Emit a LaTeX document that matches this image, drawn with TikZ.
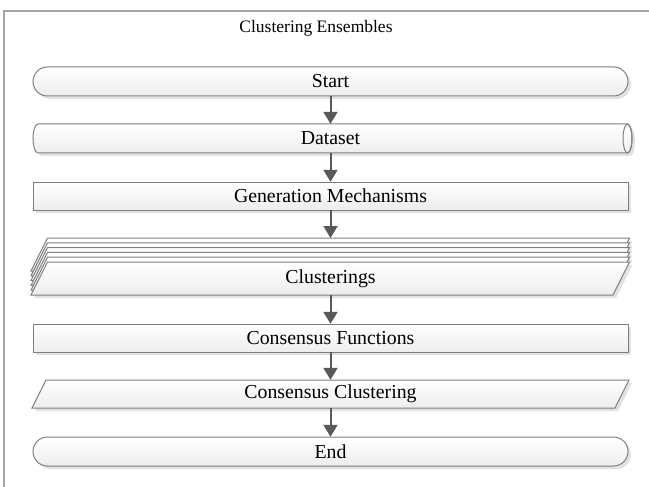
\documentclass[tikz,border=0pt]{standalone}
\usepackage{fontspec}
\setmainfont{Liberation Serif}
\usetikzlibrary{arrows.meta}
\definecolor{bordercol}{HTML}{7F7F7F}
\definecolor{arrowcol}{HTML}{595959}
\definecolor{framecol}{HTML}{A6A6A6}
\definecolor{shadowcol}{HTML}{E2E2E2}
\begin{document}
\begin{tikzpicture}[x=1pt,y=-1pt,
  shapebox/.style={draw=bordercol, line width=1pt, top color=white, bottom color=black!7,
    preaction={fill=shadowcol, transform canvas={shift={(3pt,-3pt)}}}},
  lbl/.style={inner sep=0pt, minimum width=595pt, font=\fontsize{19.8}{22}\selectfont, text=black},
  arr/.style={draw=arrowcol, line width=2pt, -{Triangle[width=14pt,length=12pt]}}]
\useasboundingbox (0,0) rectangle (649,487);
% frame
\draw[framecol, line width=1.5pt] (4,487) -- (4,11) -- (649,11);
\node[font=\fontsize{17.5}{20}\selectfont] (title) at (316,28) {Clustering Ensembles};
% Start
\path[shapebox, rounded corners=14.5pt] (33,67) rectangle (628,96);
\node[lbl, minimum height=29pt] (start) at (330.5,81.5) {Start};
% Dataset (horizontal cylinder)
\path[shapebox] (38,124) -- (627.5,124)
  .. controls (629.99,124) and (632,130.49) .. (632,138.5)
  .. controls (632,146.51) and (629.99,153) .. (627.5,153)
  -- (38,153)
  .. controls (35.24,153) and (33,146.51) .. (33,138.5)
  .. controls (33,130.49) and (35.24,124) .. cycle;
\draw[bordercol, line width=1pt] (627.5,138.5) ellipse [x radius=4.5, y radius=14.5];
\node[lbl, minimum height=29pt] (dataset) at (330.5,138.5) {Dataset};
% Generation Mechanisms
\path[shapebox] (33,182) rectangle (628,210);
\node[lbl, minimum height=28pt] (gen) at (330.5,196) {Generation Mechanisms};
% Clusterings (stack)
\foreach \k in {5,4,3,2,1}{
  \path[shapebox, yshift=4.8*\k pt] (47.5,262) -- (629.5,262) -- (613,295) -- (31,295) -- cycle;
}
\path[shapebox] (47.5,262) -- (629.5,262) -- (613,295) -- (31,295) -- cycle;
\coordinate (stacktop) at (330.5,238);
\node[lbl, minimum height=33pt] (clust) at (330.5,278.5) {Clusterings};
% Consensus Functions
\path[shapebox] (33,324) rectangle (628,352);
\node[lbl, minimum height=28pt] (cf) at (330.5,338) {Consensus Functions};
% Consensus Clustering
\path[shapebox] (46,380) -- (629,380) -- (615,408) -- (32,408) -- cycle;
\node[lbl, minimum height=28pt] (cc) at (330.5,394) {Consensus Clustering};
% End
\path[shapebox, rounded corners=14.5pt] (33,437) rectangle (628,466);
\node[lbl, minimum height=29pt] (end) at (330.5,451.5) {End};
% arrows
\draw[arr] (start.south) -- (dataset.north);
\draw[arr] (dataset.south) -- (gen.north);
\draw[arr] (gen.south) -- (stacktop);
\draw[arr] (clust.south) -- (cf.north);
\draw[arr] (cf.south) -- (cc.north);
\draw[arr] (cc.south) -- (end.north);
\end{tikzpicture}
\end{document}
